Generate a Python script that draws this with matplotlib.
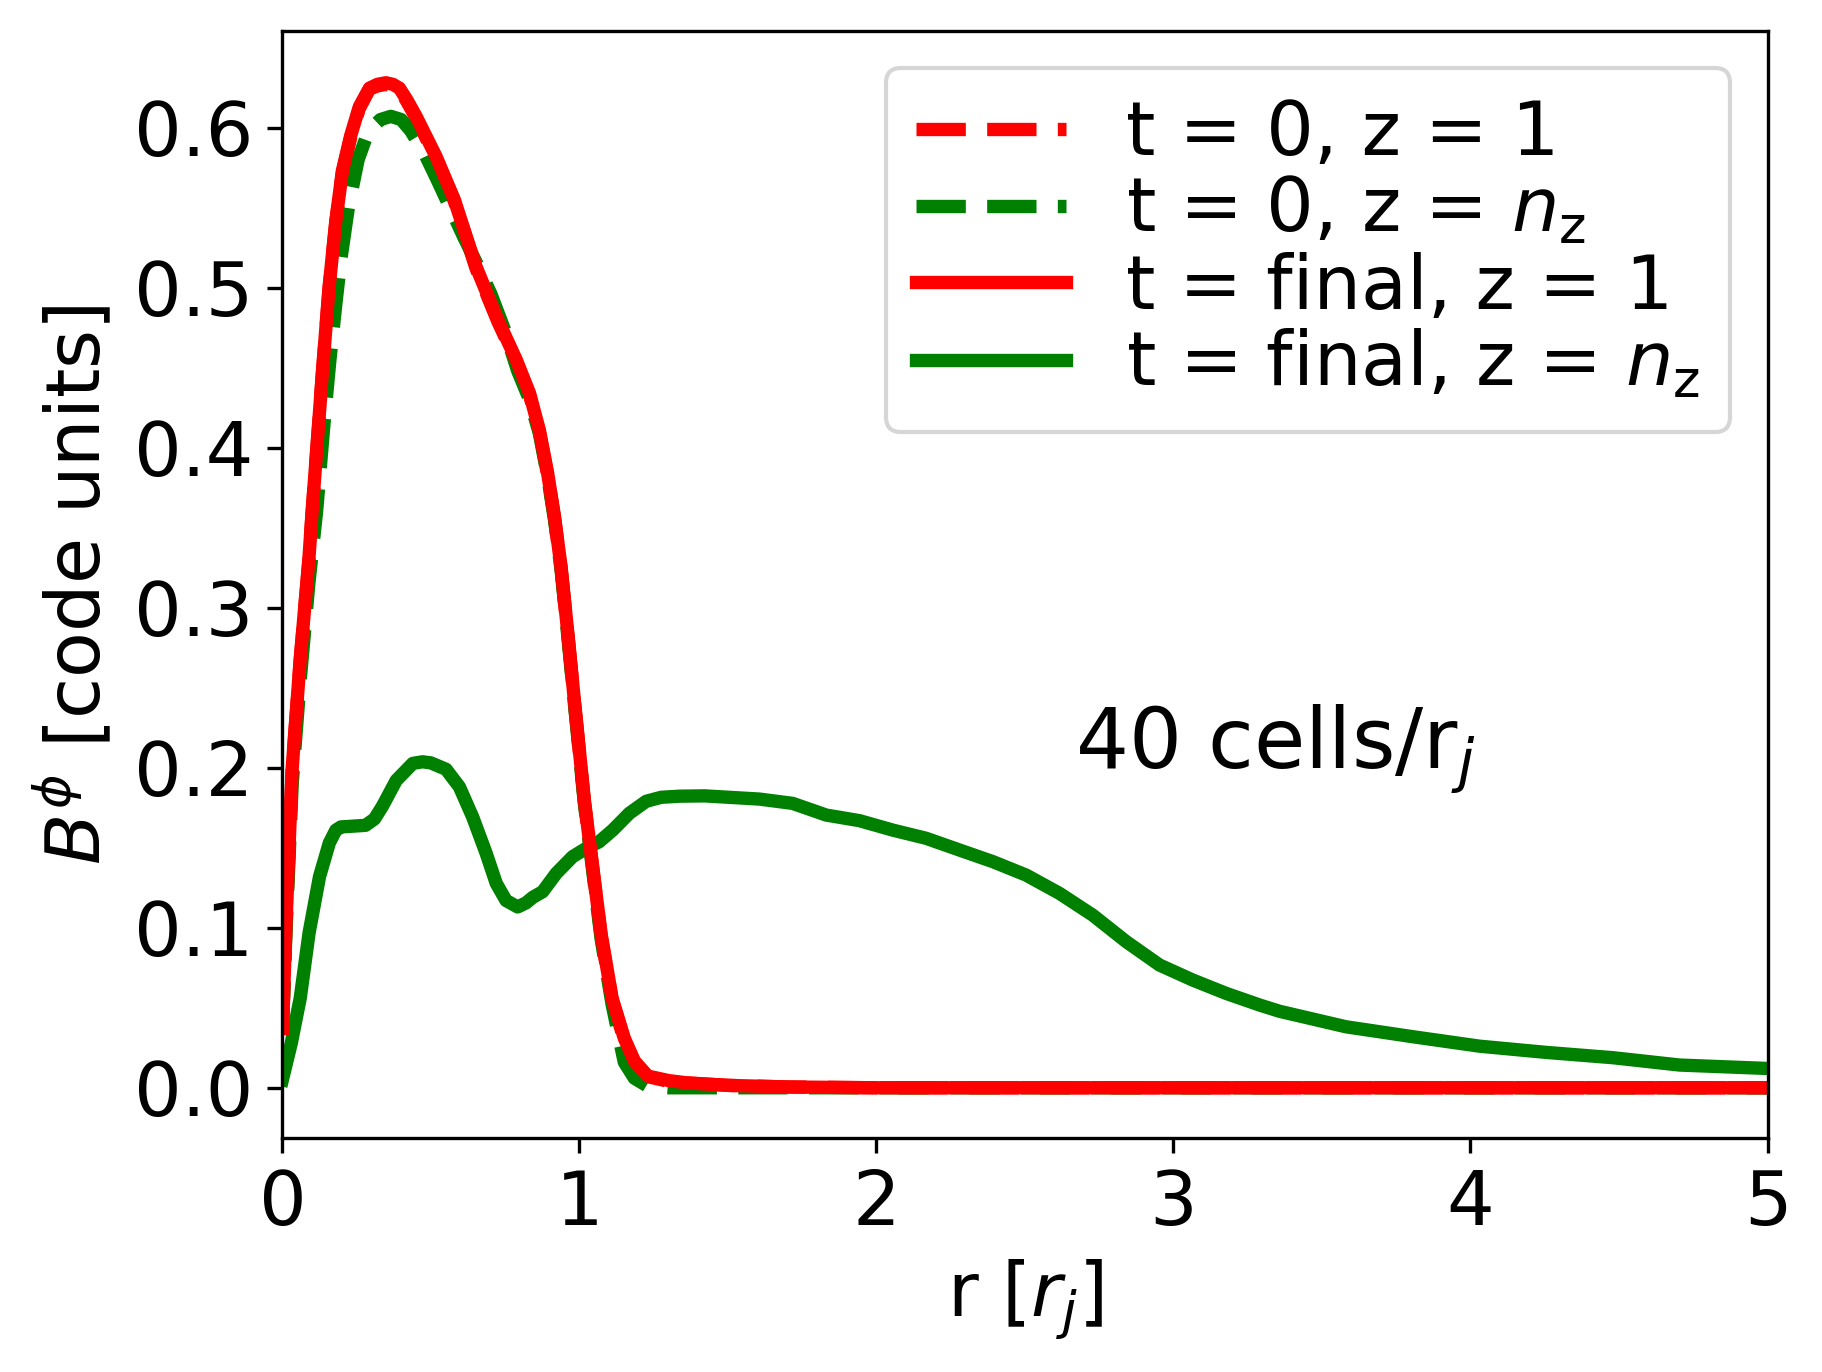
import matplotlib
matplotlib.use("Agg")
import matplotlib.pyplot as plt

plt.rcParams["font.family"] = "DejaVu Sans"
plt.rcParams["mathtext.fontset"] = "dejavusans"

# t = 0, z = 1
r_t0_z1 = [0.0, 0.0125, 0.033, 0.060, 0.089, 0.10, 0.12, 0.135, 0.157, 0.180, 0.202,
           0.230, 0.259, 0.293, 0.320, 0.348, 0.372, 0.394, 0.420, 0.450, 0.517, 0.579,
           0.652, 0.725, 0.787, 0.832, 0.865, 0.893, 0.916, 0.938, 0.961, 0.983, 1.017,
           1.045, 1.073, 1.11, 1.151, 1.185, 1.23, 1.30, 1.365, 1.5, 1.7, 2.0, 5.0]
b_t0_z1 = [0.036, 0.104, 0.199, 0.267, 0.329, 0.359, 0.409, 0.447, 0.499, 0.541, 0.572,
           0.594, 0.612, 0.624, 0.626, 0.627, 0.626, 0.624, 0.616, 0.606, 0.581, 0.554,
           0.512, 0.479, 0.454, 0.433, 0.410, 0.383, 0.356, 0.325, 0.283, 0.241, 0.178,
           0.137, 0.095, 0.055, 0.030, 0.016, 0.007, 0.004, 0.003, 0.0015, 0.0005, 0.0, 0.0]

# t = 0, z = n_z
r_t0_nz = [0.0, 0.0125, 0.033, 0.060, 0.089, 0.115, 0.14, 0.16, 0.18, 0.197, 0.222,
           0.255, 0.29, 0.33, 0.365, 0.40, 0.432, 0.478, 0.522, 0.567, 0.612, 0.657,
           0.702, 0.747, 0.792, 0.832, 0.865, 0.893, 0.916, 0.938, 0.961, 0.983, 1.017,
           1.045, 1.073, 1.11, 1.151, 1.185, 1.23, 1.30, 5.0]
b_t0_nz = [0.035, 0.100, 0.190, 0.255, 0.315, 0.360, 0.415, 0.455, 0.490, 0.518, 0.550,
           0.580, 0.598, 0.605, 0.607, 0.605, 0.598, 0.584, 0.567, 0.549, 0.531, 0.514,
           0.496, 0.474, 0.448, 0.430, 0.409, 0.382, 0.355, 0.324, 0.282, 0.240, 0.177,
           0.135, 0.093, 0.052, 0.016, 0.006, 0.001, 0.0, 0.0]

# t = final, z = 1
r_tf_z1 = [0.0, 0.0125, 0.033, 0.060, 0.089, 0.10, 0.12, 0.135, 0.157, 0.180, 0.202,
           0.230, 0.259, 0.293, 0.320, 0.348, 0.372, 0.394, 0.420, 0.450, 0.517, 0.579,
           0.652, 0.725, 0.787, 0.832, 0.865, 0.893, 0.916, 0.938, 0.961, 0.983, 1.017,
           1.045, 1.073, 1.11, 1.151, 1.185, 1.23, 1.30, 1.365, 1.5, 1.7, 2.0, 5.0]
b_tf_z1 = [0.037, 0.105, 0.200, 0.268, 0.330, 0.360, 0.410, 0.448, 0.500, 0.542, 0.573,
           0.595, 0.613, 0.6246, 0.627, 0.628, 0.627, 0.6246, 0.617, 0.607, 0.582, 0.5548,
           0.513, 0.480, 0.455, 0.434, 0.411, 0.384, 0.357, 0.3256, 0.284, 0.242, 0.179,
           0.1375, 0.096, 0.056, 0.031, 0.0167, 0.0073, 0.0045, 0.003, 0.0015, 0.0005, 0.0, 0.0]

# t = final, z = n_z
r_tf_nz = [0.0, 0.03, 0.06, 0.09, 0.125, 0.158, 0.180, 0.197, 0.240, 0.280, 0.310,
           0.337, 0.383, 0.439, 0.472, 0.500, 0.551, 0.596, 0.641, 0.686, 0.720, 0.753,
           0.792, 0.820, 0.843, 0.876, 0.922, 0.977, 1.0225, 1.067, 1.112, 1.168, 1.2245,
           1.275, 1.337, 1.421, 1.606, 1.718, 1.831, 1.943, 2.055, 2.167, 2.279, 2.392,
           2.504, 2.616, 2.728, 2.841, 2.953, 3.065, 3.177, 3.290, 3.357, 3.581, 3.806,
           4.030, 4.255, 4.479, 4.704, 4.995]
b_tf_nz = [0.005, 0.028, 0.056, 0.097, 0.132, 0.153, 0.161, 0.163, 0.1635, 0.164, 0.168,
           0.176, 0.192, 0.2027, 0.2037, 0.203, 0.199, 0.188, 0.169, 0.1465, 0.1277, 0.117,
           0.113, 0.1155, 0.119, 0.1225, 0.134, 0.1444, 0.1496, 0.1538, 0.161, 0.1715, 0.179,
           0.1815, 0.1822, 0.1824, 0.1804, 0.1777, 0.1704, 0.1669, 0.161, 0.1559, 0.1486, 0.1413,
           0.1329, 0.1215, 0.1079, 0.0913, 0.0767, 0.0673, 0.059, 0.0517, 0.0478, 0.0381, 0.0319,
           0.026, 0.0221, 0.0188, 0.0142, 0.0121]

LW = 3.2

fig = plt.figure(figsize=(1822 / 300, 1372 / 300), dpi=300)
ax = fig.add_axes([0.155, 0.1703, 0.8151, 0.8073])

h1, = ax.plot(r_t0_z1, b_t0_z1, color="red", ls="--", lw=LW, label="t = 0, z = 1")
h2, = ax.plot(r_t0_nz, b_t0_nz, color="green", ls="--", lw=LW, label=r"t = 0, z = $n_{\rm z}$")
h4, = ax.plot(r_tf_nz, b_tf_nz, color="green", ls="-", lw=LW, label=r"t = final, z = $n_{\rm z}$")
h3, = ax.plot(r_tf_z1, b_tf_z1, color="red", ls="-", lw=LW, label="t = final, z = 1")

ax.set_xlim(0, 5)
ax.set_ylim(-0.0316, 0.6605)
ax.set_xticks([0, 1, 2, 3, 4, 5])
ax.set_yticks([0.0, 0.1, 0.2, 0.3, 0.4, 0.5, 0.6])
ax.tick_params(labelsize=18)
ax.set_xlabel(r"r [$r_j$]", fontsize=18)
ax.set_ylabel(r"$B^\phi$ [code units]", fontsize=18)

ax.text(2.67, 0.2, r"40 cells/r$_j$", fontsize=20)

ax.legend(handles=[h1, h2, h3, h4], loc="upper right", fontsize=18, labelspacing=0.05)

fig.savefig("out.png", dpi=300)
